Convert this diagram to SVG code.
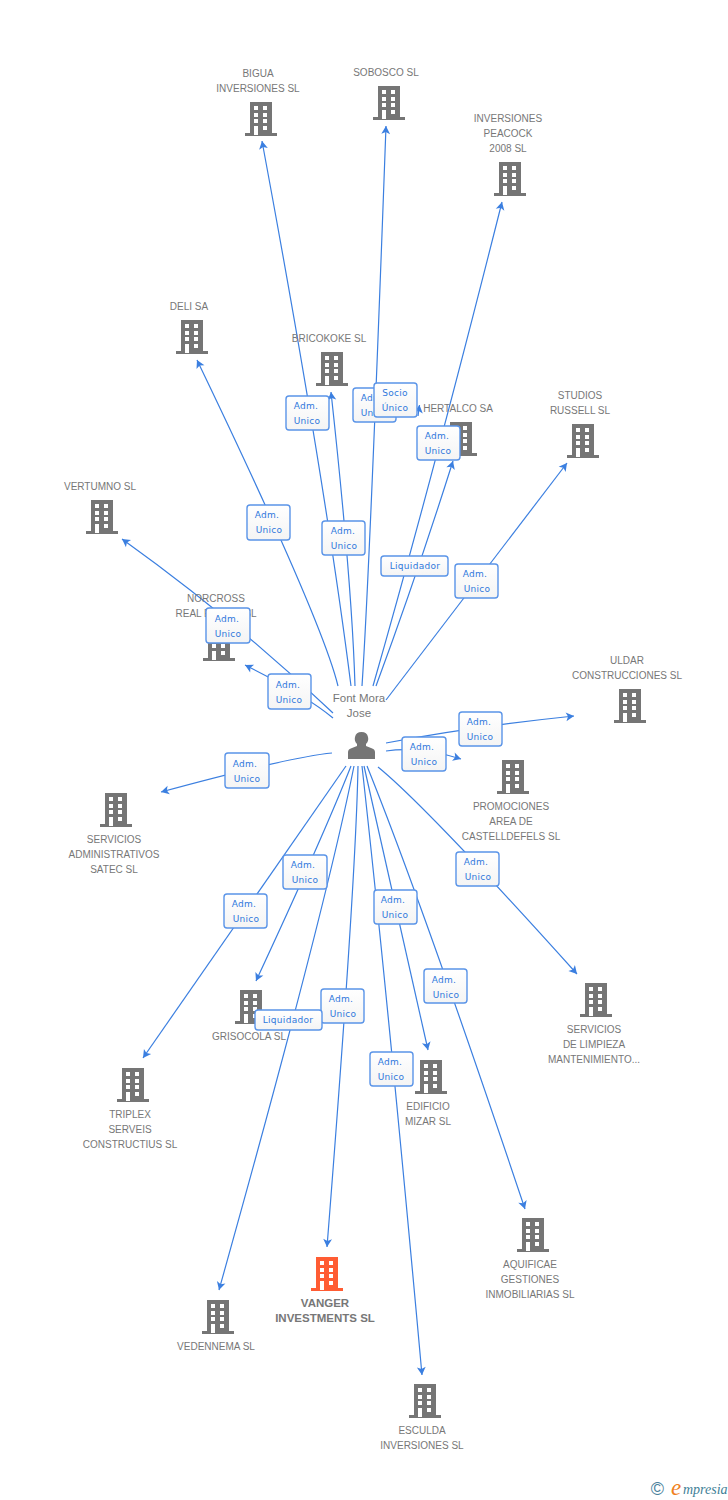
<svg xmlns="http://www.w3.org/2000/svg" width="728" height="1500" viewBox="0 0 728 1500">
<style>
.bg{fill:#fff}
.c{fill:none;stroke:#3b7fe0;stroke-width:1.2;marker-end:url(#arrow)}
.n{font:10px "Liberation Sans",Arial,sans-serif;fill:#777;text-anchor:middle}
.b{font-weight:bold;font-size:11.5px}
.p{font-size:11.5px}
.lb{fill:url(#lg);stroke:#5a94e8;stroke-width:1.4}
.lt{font:9px "DejaVu Sans",sans-serif;letter-spacing:.3px;fill:#2f78dc;text-anchor:middle}
</style>
<defs>
<linearGradient id="lg" x1="0" y1="0" x2="0" y2="1"><stop offset="0" stop-color="#fff"/><stop offset="1" stop-color="#f4f4f4"/></linearGradient>
<marker id="arrow" viewBox="-9 -5 10 10" refX="0" refY="0" markerWidth="10" markerHeight="10" markerUnits="userSpaceOnUse" orient="auto"><path d="M0,0L-8,-4.4L-6,0L-8,4.4Z" fill="#3b7fe0"/></marker>
<path id="bld" fill-rule="evenodd" d="M5,0H27V31H32V34H0V31H5ZM9,4V8H13V4ZM18,4V8H22V4ZM9,11V15H13V11ZM18,11V15H22V11ZM9,17V21H13V17ZM18,17V21H22V17ZM9,24V33H13V24ZM18,24V28H22V24Z"/>
</defs>
<rect class="bg" width="728" height="1500"/>
<g id="connectors">
<path class="c" d="M351,686Q325,480 262,141"/>
<path class="c" d="M362,686Q370,565 386,126"/>
<path class="c" d="M373,686Q432,480 502,202"/>
<path class="c" d="M338,686Q322,620 197,360"/>
<path class="c" d="M355,686Q352,584 331,392"/>
<path class="c" d="M376,686Q417,575 453,461"/>
<path class="c" d="M386,700L567,463"/>
<path class="c" d="M333,713Q235,620 122,539"/>
<path class="c" d="M333,718Q307,696 245,665"/>
<path class="c" d="M386,743Q477,726 574,716"/>
<path class="c" d="M386,751Q420,746 461,759"/>
<path class="c" d="M332,753Q290,757 161,792"/>
<path class="c" d="M378,767Q426,806 577,974"/>
<path class="c" d="M346,766L143,1058"/>
<path class="c" d="M351,766Q323,837 256,981"/>
<path class="c" d="M354,766Q325,912 219,1290"/>
<path class="c" d="M358,766Q356,880 327,1247"/>
<path class="c" d="M362,766Q388,1000 422,1375"/>
<path class="c" d="M364,766L428,1050"/>
<path class="c" d="M367,766Q423,905 525,1209"/>
<path class="c" d="M418,416L419.500,405"/>
</g>
<g id="node-bigua" fill="#757575"><use href="#bld" x="245" y="102"/><text class="n" x="258" y="77">BIGUA</text><text class="n" x="258" y="92">INVERSIONES SL</text></g>
<g id="node-sobosco" fill="#757575"><use href="#bld" x="373" y="86"/><text class="n" x="386" y="76">SOBOSCO SL</text></g>
<g id="node-peacock" fill="#757575"><use href="#bld" x="494" y="162"/><text class="n" x="508" y="122">INVERSIONES</text><text class="n" x="508" y="137">PEACOCK</text><text class="n" x="508" y="152">2008 SL</text></g>
<g id="node-deli" fill="#757575"><use href="#bld" x="176" y="320"/><text class="n" x="189" y="310">DELI SA</text></g>
<g id="node-bricokoke" fill="#757575"><use href="#bld" x="316" y="352"/><text class="n" x="329" y="342">BRICOKOKE SL</text></g>
<g id="node-hertalco" fill="#757575"><use href="#bld" x="445" y="422"/><text class="n" x="458" y="412">HERTALCO SA</text></g>
<g id="node-studios" fill="#757575"><use href="#bld" x="567" y="424"/><text class="n" x="580" y="399">STUDIOS</text><text class="n" x="580" y="414">RUSSELL SL</text></g>
<g id="node-vertumno" fill="#757575"><use href="#bld" x="86" y="500"/><text class="n" x="100" y="490">VERTUMNO SL</text></g>
<g id="node-norcross" fill="#757575"><use href="#bld" x="203" y="627"/><text class="n" x="216" y="602">NORCROSS</text><text class="n" x="216" y="617">REAL ESTATE SL</text></g>
<g id="node-uldar" fill="#757575"><use href="#bld" x="614" y="689"/><text class="n" x="627" y="664">ULDAR</text><text class="n" x="627" y="679">CONSTRUCCIONES SL</text></g>
<g id="node-promociones" fill="#757575"><use href="#bld" x="497" y="760"/><text class="n" x="511" y="810">PROMOCIONES</text><text class="n" x="511" y="825">AREA DE</text><text class="n" x="511" y="840">CASTELLDEFELS SL</text></g>
<g id="node-satec" fill="#757575"><use href="#bld" x="100" y="793"/><text class="n" x="114" y="843">SERVICIOS</text><text class="n" x="114" y="858">ADMINISTRATIVOS</text><text class="n" x="114" y="873">SATEC SL</text></g>
<g id="node-limpieza" fill="#757575"><use href="#bld" x="580" y="983"/><text class="n" x="594" y="1033">SERVICIOS</text><text class="n" x="594" y="1048">DE LIMPIEZA</text><text class="n" x="594" y="1063">MANTENIMIENTO...</text></g>
<g id="node-grisocola" fill="#757575"><use href="#bld" x="235" y="990"/><text class="n" x="249" y="1040">GRISOCOLA SL</text></g>
<g id="node-triplex" fill="#757575"><use href="#bld" x="117" y="1068"/><text class="n" x="130" y="1118">TRIPLEX</text><text class="n" x="130" y="1133">SERVEIS</text><text class="n" x="130" y="1148">CONSTRUCTIUS SL</text></g>
<g id="node-edificio" fill="#757575"><use href="#bld" x="415" y="1060"/><text class="n" x="428" y="1110">EDIFICIO</text><text class="n" x="428" y="1125">MIZAR SL</text></g>
<g id="node-aquificae" fill="#757575"><use href="#bld" x="517" y="1218"/><text class="n" x="530" y="1268">AQUIFICAE</text><text class="n" x="530" y="1283">GESTIONES</text><text class="n" x="530" y="1298">INMOBILIARIAS SL</text></g>
<g id="node-vanger" fill="#ff5c33"><use href="#bld" x="311" y="1257"/><text class="n b" x="325" y="1307">VANGER</text><text class="n b" x="325" y="1322">INVESTMENTS SL</text></g>
<g id="node-vedennema" fill="#757575"><use href="#bld" x="202" y="1300"/><text class="n" x="216" y="1350">VEDENNEMA SL</text></g>
<g id="node-esculda" fill="#757575"><use href="#bld" x="409" y="1384"/><text class="n" x="422" y="1434">ESCULDA</text><text class="n" x="422" y="1449">INVERSIONES SL</text></g>
<g id="node-person" fill="#757575"><text class="n p" x="359" y="702">Font Mora</text><text class="n p" x="359" y="717">Jose</text><path d="M348,759V752Q348,749 352,748L357,746V744Q354,741 355,737Q356,732 361.500,732Q367,732 368,737Q369,741 366,744V746L371,748Q375,749 375,752V759Z"/></g>
<g id="edge-labels">
<g><rect class="lb" x="286" y="396" width="43" height="34" rx="3"/><text class="lt" x="306" y="409">Adm.</text><text class="lt" x="307" y="424">Unico</text></g>
<g><rect class="lb" x="353" y="388" width="43" height="34" rx="3"/><text class="lt" x="373" y="401">Adm.</text><text class="lt" x="374" y="416">Unico</text></g>
<g><rect class="lb" x="374" y="383" width="43" height="34" rx="3"/><text class="lt" x="395" y="396">Socio</text><text class="lt" x="395" y="411">Único</text></g>
<g><rect class="lb" x="417" y="426" width="43" height="34" rx="3"/><text class="lt" x="437" y="439">Adm.</text><text class="lt" x="438" y="454">Unico</text></g>
<g><rect class="lb" x="247" y="505" width="43" height="35" rx="3"/><text class="lt" x="267" y="518">Adm.</text><text class="lt" x="269" y="533">Unico</text></g>
<g><rect class="lb" x="322" y="521" width="43" height="34" rx="3"/><text class="lt" x="343" y="534">Adm.</text><text class="lt" x="344" y="549">Unico</text></g>
<g><rect class="lb" x="381" y="556" width="67" height="20" rx="3"/><text class="lt" x="415" y="569">Liquidador</text></g>
<g><rect class="lb" x="455" y="564" width="43" height="34" rx="3"/><text class="lt" x="475" y="577">Adm.</text><text class="lt" x="477" y="592">Unico</text></g>
<g><rect class="lb" x="206" y="608" width="44" height="35" rx="3"/><text class="lt" x="227" y="622">Adm.</text><text class="lt" x="228" y="637">Unico</text></g>
<g><rect class="lb" x="268" y="674" width="43" height="35" rx="3"/><text class="lt" x="288" y="688">Adm.</text><text class="lt" x="289" y="703">Unico</text></g>
<g><rect class="lb" x="459" y="712" width="43" height="34" rx="3"/><text class="lt" x="479" y="725">Adm.</text><text class="lt" x="480" y="740">Unico</text></g>
<g><rect class="lb" x="402" y="737" width="44" height="34" rx="3"/><text class="lt" x="422" y="750">Adm.</text><text class="lt" x="424" y="765">Unico</text></g>
<g><rect class="lb" x="225" y="753" width="44" height="35" rx="3"/><text class="lt" x="245" y="767">Adm.</text><text class="lt" x="247" y="782">Unico</text></g>
<g><rect class="lb" x="283" y="855" width="44" height="34" rx="3"/><text class="lt" x="303" y="868">Adm.</text><text class="lt" x="305" y="883">Unico</text></g>
<g><rect class="lb" x="456" y="852" width="43" height="34" rx="3"/><text class="lt" x="476" y="865">Adm.</text><text class="lt" x="478" y="880">Unico</text></g>
<g><rect class="lb" x="374" y="890" width="43" height="34" rx="3"/><text class="lt" x="393" y="903">Adm.</text><text class="lt" x="395" y="918">Unico</text></g>
<g><rect class="lb" x="224" y="894" width="43" height="34" rx="3"/><text class="lt" x="244" y="907">Adm.</text><text class="lt" x="246" y="922">Unico</text></g>
<g><rect class="lb" x="424" y="969" width="43" height="34" rx="3"/><text class="lt" x="444" y="983">Adm.</text><text class="lt" x="446" y="998">Unico</text></g>
<g><rect class="lb" x="321" y="989" width="43" height="34" rx="3"/><text class="lt" x="341" y="1002">Adm.</text><text class="lt" x="343" y="1017">Unico</text></g>
<g><rect class="lb" x="255" y="1010" width="67" height="20" rx="3"/><text class="lt" x="288" y="1023">Liquidador</text></g>
<g><rect class="lb" x="370" y="1052" width="43" height="34" rx="3"/><text class="lt" x="390" y="1065">Adm.</text><text class="lt" x="391" y="1080">Unico</text></g>
</g>
<g id="logo"><text x="657.500" y="1495" font-family="Liberation Sans,sans-serif" font-size="18" fill="#4a7f9c" text-anchor="middle">©</text><text x="671" y="1495" font-family="Liberation Serif,serif" font-style="italic" font-size="23" fill="#f08020">e</text><text x="683" y="1494" font-family="Liberation Serif,serif" font-style="italic" font-size="14" fill="#3f7f97">mpresia</text></g>
</svg>
